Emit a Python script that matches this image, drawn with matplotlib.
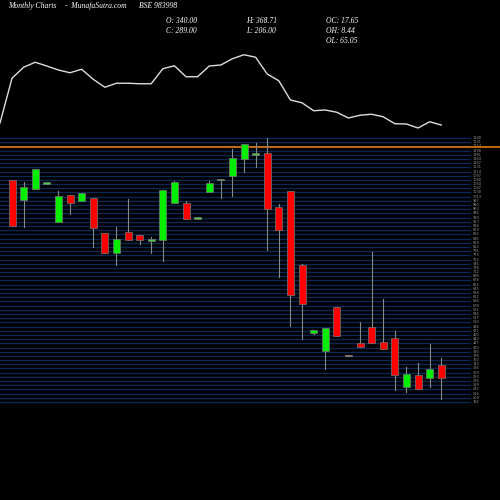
import matplotlib
matplotlib.use('Agg')
import matplotlib.pyplot as plt
import numpy as np

# monthly candles, oldest first
opens  = [1080, 1000, 1044, 1068, 912, 1020, 996, 1008, 868, 788, 872, 860, 840, 840, 988, 988, 928, 1032, 1082,
          1096, 1164, 1184, 1188, 972, 1036, 740, 468, 396, 572, 380, 428, 492, 432, 448, 252, 300, 288, 340]
closes = [896, 1052, 1124, 1068, 1016, 988, 1028, 888, 788, 844, 840, 840, 842, 1040, 1072, 924, 930, 1068, 1084,
          1168, 1224, 1186, 964, 880, 620, 584, 480, 488, 456, 378, 412, 428, 404, 300, 304, 244, 324, 289]
highs  = [1080, 1072, 1124, 1070, 1036, 1020, 1030, 1008, 868, 892, 1004, 860, 852, 1040, 1076, 996, 932, 1076, 1084,
          1204, 1224, 1228, 1248, 984, 1036, 744, 482, 488, 572, 382, 512, 792, 604, 476, 332, 348, 424, 368.71]
lows   = [896, 892, 1044, 1064, 912, 944, 996, 812, 788, 740, 840, 824, 788, 756, 988, 924, 926, 1032, 1008,
          1016, 1112, 1132, 800, 692, 496, 444, 466, 324, 456, 376, 412, 428, 404, 240, 232, 244, 252, 206]

# indicator line drawn above the candles (same price scale, shifted)
line_vals = [1308, 1487, 1531, 1551, 1536, 1520, 1509, 1523, 1483, 1451, 1467, 1467, 1465, 1465, 1525, 1537,
             1493, 1493, 1536, 1540, 1565, 1581, 1571, 1504, 1477, 1400, 1389, 1357, 1360, 1351, 1328, 1339,
             1343, 1333, 1305, 1304, 1288, 1313, 1300]

level = 1213

n = len(opens)
xs = 12 + 11.6 * np.arange(n)

fig = plt.figure(figsize=(5, 5), dpi=100, facecolor='black')
ax = fig.add_axes([0, 0, 1, 1])
ax.set_facecolor('black')
ax.set_xlim(0, 500)
ax.set_ylim(-200, 1800)
ax.axis('off')

# grid lines with tiny labels
grid = np.linspace(192, 1248, 64)
for g in grid:
    ax.plot([0, 470], [g, g], color='#0a2852', lw=1, zorder=1)
    ax.text(473, g, '%.0f' % g, color='#999999', fontsize=2.5, va='center', zorder=2)
ax.plot([0, 500], [level, level], color='#e07b10', lw=1.2, zorder=3)

for i in range(n):
    o, c, h, l = opens[i], closes[i], highs[i], lows[i]
    col = '#00ee00' if c > o else '#ff0000'
    if abs(c - o) < 4:
        col = '#44cc44' if i != 29 else '#ffaaaa'
    ax.plot([xs[i], xs[i]], [l, h], color='#888888', lw=0.8, zorder=4)
    bottom = min(o, c)
    hgt = max(abs(c - o), 6)
    ax.bar(xs[i], hgt, bottom=bottom if abs(c - o) >= 6 else (o + c) / 2 - 3, width=7, color=col,
           edgecolor='#777777', linewidth=0.5, zorder=5)

lx = np.concatenate([[0], xs])
ax.plot(lx, line_vals, color='#dddddd', lw=1, zorder=5)

# header
kw = dict(color='white', fontsize=5.5, family='Liberation Serif', style='italic',
          transform=ax.transAxes, va='center')
ax.text(0.016, 0.988, 'Monthly Charts', **kw)
ax.text(0.13, 0.988, '-  MunafaSutra.com', **kw)
ax.text(0.278, 0.988, 'BSE 983998', **kw)
ax.text(0.333, 0.958, 'O: 340.00', **kw)
ax.text(0.333, 0.938, 'C: 289.00', **kw)
ax.text(0.493, 0.958, 'H: 368.71', **kw)
ax.text(0.493, 0.938, 'L: 206.00', **kw)
ax.text(0.653, 0.958, 'OC: 17.65', **kw)
ax.text(0.653, 0.938, 'OH: 8.44', **kw)
ax.text(0.653, 0.918, 'OL: 65.05', **kw)

fig.savefig('out.png', dpi=100, facecolor='black')
